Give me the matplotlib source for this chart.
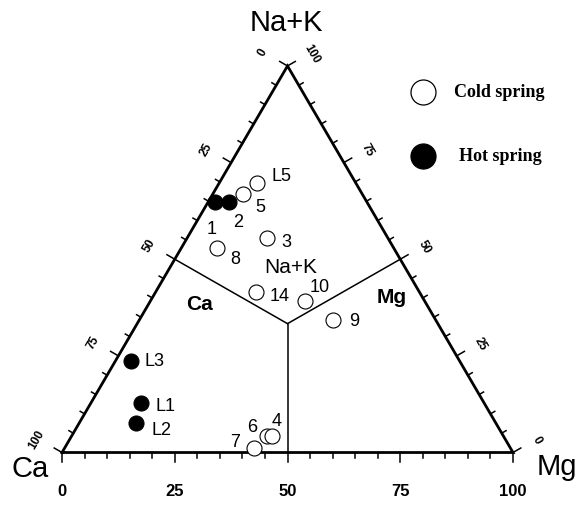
import numpy as np
import matplotlib
matplotlib.use("Agg")
import matplotlib.pyplot as plt

# Sample compositions (% of Ca, Mg, Na+K)
cold_names = ["L5", "5", "3", "8", "14", "10", "9", "6", "4", "7"]
cold_ca = [21.9, 26.4, 26.8, 39.1, 36.2, 26.5, 22.8, 52.4, 51.3, 56.8]
cold_mg = [8.3, 6.6, 17.6, 7.9, 22.2, 34.3, 42.9, 43.3, 44.4, 42.0]
cold_nak = [69.8, 67.0, 55.6, 53.0, 41.6, 39.2, 34.3, 4.3, 4.3, 1.2]

hot_names = ["1", "2", "L3", "L1", "L2"]
hot_ca = [33.6, 30.5, 72.9, 76.1, 79.8]
hot_mg = [1.5, 4.6, 3.4, 11.1, 12.6]
hot_nak = [64.9, 64.9, 23.7, 12.8, 7.6]

tick_values = [0, 25, 50, 75, 100]

# label offsets in pixels (dx, dy)
label_offsets = {
    "L5": (25, 7), "5": (17, -13), "3": (20, -4), "8": (18, -11),
    "14": (24, -4), "10": (15, 14), "9": (21, -1), "6": (-15, 9),
    "4": (5, 15), "7": (-19, 6), "1": (-3, -27), "2": (9, -20),
    "L3": (24, 0), "L1": (25, -2), "L2": (26, -6),
}

H = np.sqrt(3) / 2 * 100


def tern(ca, mg, nak):
    ca, mg, nak = map(np.asarray, (ca, mg, nak))
    tot = ca + mg + nak
    mg = mg / tot * 100
    nak = nak / tot * 100
    return mg + nak / 2, nak * np.sqrt(3) / 2


fig = plt.figure(figsize=(5.82, 5.06), dpi=100)
ax = fig.add_axes([0, 0, 1, 1])
ax.set_xlim(-13.75, 115.3)
ax.set_ylim(-11.76, 101.6)
ax.axis("off")

sans = "Liberation Sans"
serif = "Liberation Serif"

# triangle frame
ax.plot([0, 100, 50, 0], [0, 0, H, 0], color="black", lw=2.0,
        solid_joinstyle="miter", zorder=2)

# field dividers from the centroid to side midpoints
cx, cy = tern(1, 1, 1)
for p in [tern(50, 0, 50), tern(0, 50, 50), tern(50, 50, 0)]:
    ax.plot([cx, p[0]], [cy, p[1]], color="black", lw=1.1, zorder=2)


def tick(x0, y0, dx, dy, length_px):
    # dx, dy: unit direction in pixel space (y up)
    sx, sy = 4.51, 4.463
    ax.plot([x0, x0 + dx * length_px / sx], [y0, y0 + dy * length_px / sy],
            color="black", lw=1.1, zorder=2)


for v in range(0, 101, 5):
    L = 9 if v % 25 == 0 else 5
    # bottom axis (Mg)
    x, y = tern(100 - v, v, 0)
    tick(x, y, 0, -1, L)
    # left axis (Ca)
    x, y = tern(v, 0, 100 - v)
    tick(x, y, -0.866, 0.5, L)
    # right axis (Na+K)
    x, y = tern(0, 100 - v, v)
    tick(x, y, 0.866, 0.5, L)

for v in tick_values:
    x, y = tern(100 - v, v, 0)
    ax.annotate(str(v), (x, y), xytext=(0, -38), textcoords="offset pixels",
                ha="center", va="center", fontsize=12, fontweight="bold",
                family=sans)
    x, y = tern(v, 0, 100 - v)
    ax.annotate(str(v), (x, y), xytext=(-25, 14), textcoords="offset pixels",
                ha="center", va="center", fontsize=8.5, fontweight="bold",
                family=sans, rotation=60)
    x, y = tern(0, 100 - v, v)
    ax.annotate(str(v), (x, y), xytext=(24, 13), textcoords="offset pixels",
                ha="center", va="center", fontsize=8.5, fontweight="bold",
                family=sans, rotation=-60)

# vertex labels
ax.annotate("Na+K", (50, H), xytext=(-1, 44), textcoords="offset pixels",
            ha="center", va="center", fontsize=21, family=sans)
ax.annotate("Ca", (0, 0), xytext=(-32, -15), textcoords="offset pixels",
            ha="center", va="center", fontsize=21, family=sans)
ax.annotate("Mg", (100, 0), xytext=(44, -13), textcoords="offset pixels",
            ha="center", va="center", fontsize=21, family=sans)

# field labels
ax.annotate("Na+K", (cx, cy), xytext=(3, 57), textcoords="offset pixels",
            ha="center", va="center", fontsize=15, family=sans)
ax.annotate("Ca", (cx, cy), xytext=(-88, 20), textcoords="offset pixels",
            ha="center", va="center", fontsize=15, fontweight="bold",
            family=sans)
ax.annotate("Mg", (cx, cy), xytext=(104, 27), textcoords="offset pixels",
            ha="center", va="center", fontsize=15, fontweight="bold",
            family=sans)

# samples
x, y = tern(cold_ca, cold_mg, cold_nak)
ax.scatter(x, y, s=10.8 ** 2, facecolor="white", edgecolor="black",
           linewidth=0.8, zorder=3)
for n, xi, yi in zip(cold_names, x, y):
    ax.annotate(n, (xi, yi), xytext=label_offsets[n],
                textcoords="offset pixels", ha="center", va="center",
                fontsize=13, family=sans, zorder=4)

x, y = tern(hot_ca, hot_mg, hot_nak)
ax.scatter(x, y, s=10.8 ** 2, facecolor="black", edgecolor="black",
           linewidth=0.8, zorder=3)
for n, xi, yi in zip(hot_names, x, y):
    ax.annotate(n, (xi, yi), xytext=label_offsets[n],
                textcoords="offset pixels", ha="center", va="center",
                fontsize=13, family=sans, zorder=4)

# legend
lx = (423 - 62) / 4.51
ly1 = (453.5 - 93) / 4.463
ly2 = (453.5 - 157) / 4.463
ax.scatter([lx], [ly1], s=18 ** 2, facecolor="white", edgecolor="black",
           linewidth=0.9, zorder=3)
ax.scatter([lx], [ly2], s=18 ** 2, facecolor="black", edgecolor="black",
           linewidth=0.9, zorder=3)
ax.annotate("Cold spring", (lx, ly1), xytext=(31, 0),
            textcoords="offset pixels", ha="left", va="center",
            fontsize=13, fontweight="bold", family=serif)
ax.annotate("Hot spring", (lx, ly2), xytext=(36, 0),
            textcoords="offset pixels", ha="left", va="center",
            fontsize=13, fontweight="bold", family=serif)

fig.savefig("out.png", dpi=100)
